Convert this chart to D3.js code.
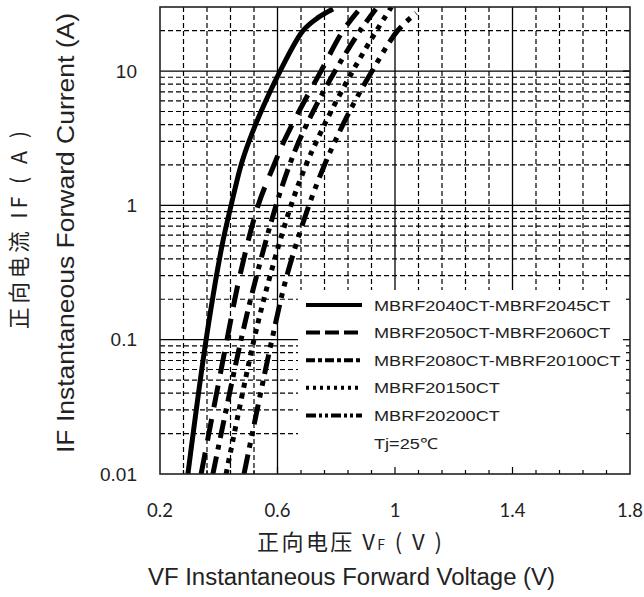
<!DOCTYPE html>
<html>
<head>
<meta charset="utf-8">
<script src="https://cdn.jsdelivr.net/npm/d3@7"></script>
<style>
  body { margin: 0; background: #fff; }
  svg { display: block; }
</style>
</head>
<body>
<svg id="chart" width="644" height="597"></svg>
<script>
// series names (legend order)
var seriesNames = ["MBRF2040CT-MBRF2045CT", "MBRF2050CT-MBRF2060CT", "MBRF2080CT-MBRF20100CT", "MBRF20150CT", "MBRF20200CT"];

// forward current (A) and voltage (V)
var s1Current = [0.01, 0.1, 0.5, 1, 2, 3, 5, 10, 20, 25, 29];
var s1Voltage = [0.295, 0.357, 0.411, 0.442, 0.476, 0.503, 0.544, 0.609, 0.687, 0.738, 0.789];
var s2Current = [0.01, 0.1, 0.3, 1, 2, 3, 5, 10, 20, 28];
var s2Voltage = [0.340, 0.428, 0.472, 0.534, 0.588, 0.622, 0.673, 0.748, 0.823, 0.874];
var s3Current = [0.01, 0.1, 0.3, 1, 2, 3, 5, 10, 20, 29];
var s3Voltage = [0.380, 0.476, 0.529, 0.595, 0.641, 0.673, 0.721, 0.796, 0.881, 0.935];
var s4Current = [0.01, 0.1, 0.3, 1, 2, 3, 5, 10, 20, 30];
var s4Voltage = [0.425, 0.520, 0.575, 0.646, 0.697, 0.733, 0.782, 0.856, 0.937, 0.988];
var s5Current = [0.01, 0.1, 0.3, 1, 2, 3, 5, 10, 20, 27];
var s5Voltage = [0.486, 0.581, 0.632, 0.707, 0.760, 0.796, 0.845, 0.922, 1.009, 1.072];

var xTickValues = [0.2, 0.6, 1, 1.4, 1.8];
var xTickLabels = ["0.2", "0.6", "1", "1.4", "1.8"];
var yTickValues = [0.01, 0.1, 1, 10];
var yTickLabels = ["0.01", "0.1", "1", "10"];

(function() {

    var svg = d3.select("#chart");
    var pl = 160, pr = 630, pt = 7, pb = 474;

    var x = d3.scaleLinear().domain([0.2, 1.8]).range([pl, pr]);
    var y = d3.scaleLog().domain([0.01, 30]).range([pb, pt]);

    // minor grid values
    var xMinor = d3.range(0, 21).filter(function(i) { return i % 5 != 0; }).map(function(i) { return 0.2 + i * 0.08; });
    var xMajor = [0.6, 1, 1.4];
    var yMinor = [];
    [0.01, 0.1, 1, 10].forEach(function(dec) {
        for (var k = 2; k <= 9; k++) { if (dec * k < 30) yMinor.push(dec * k); }
    });
    var yMajor = [0.1, 1, 10];

    var grid = svg.append("g");
    grid.selectAll("line.vminor").data(xMinor).enter().append("line")
        .attr("x1", function(d) { return x(d); }).attr("x2", function(d) { return x(d); })
        .attr("y1", pt).attr("y2", pb)
        .attr("stroke", "#000").attr("stroke-width", 1.2).attr("stroke-dasharray", "5,3");
    grid.selectAll("line.hminor").data(yMinor).enter().append("line")
        .attr("y1", function(d) { return y(d); }).attr("y2", function(d) { return y(d); })
        .attr("x1", pl).attr("x2", pr)
        .attr("stroke", "#000").attr("stroke-width", 1.2).attr("stroke-dasharray", "5,3");
    grid.selectAll("line.vmajor").data(xMajor).enter().append("line")
        .attr("x1", function(d) { return x(d); }).attr("x2", function(d) { return x(d); })
        .attr("y1", pt).attr("y2", pb)
        .attr("stroke", "#000").attr("stroke-width", 1.3);
    grid.selectAll("line.hmajor").data(yMajor).enter().append("line")
        .attr("y1", function(d) { return y(d); }).attr("y2", function(d) { return y(d); })
        .attr("x1", pl).attr("x2", pr)
        .attr("stroke", "#000").attr("stroke-width", 1.3);

    // curves
    svg.append("clipPath").attr("id", "plot").append("rect")
        .attr("x", pl).attr("y", pt).attr("width", pr - pl).attr("height", pb - pt);

    var series = [
        { v: s1Voltage, i: s1Current, dash: null },
        { v: s2Voltage, i: s2Current, dash: "22,12" },
        { v: s3Voltage, i: s3Current, dash: "18,7,5,7" },
        { v: s4Voltage, i: s4Current, dash: "5,6" },
        { v: s5Voltage, i: s5Current, dash: "20,7,5,7,5,7" }
    ];
    var legendDash = [null, "14,5", "9,3,4,3", "3,4", "10,3,3,3,3,3"];

    var line = d3.line()
        .x(function(d) { return x(d[0]); })
        .y(function(d) { return y(d[1]); })
        .curve(d3.curveCatmullRom.alpha(0.5));

    svg.append("g").attr("clip-path", "url(#plot)")
        .selectAll("path").data(series).enter().append("path")
        .attr("d", function(s) { return line(d3.zip(s.v, s.i)); })
        .attr("fill", "none").attr("stroke", "#000").attr("stroke-width", 5)
        .attr("stroke-dasharray", function(s) { return s.dash; });

    // legend box covers the grid
    var lgX = 298, lgY = 290;
    svg.append("rect").attr("x", lgX).attr("y", lgY).attr("width", pr - lgX).attr("height", pb - lgY).attr("fill", "#fff");

    // inner ticks on bottom and right edges
    var ticks = svg.append("g").attr("stroke", "#000").attr("stroke-width", 1.2);
    ticks.selectAll("line.bt").data(xMinor.concat(xMajor)).enter().append("line")
        .attr("x1", function(d) { return x(d); }).attr("x2", function(d) { return x(d); })
        .attr("y1", pb).attr("y2", function(d) { return xMajor.indexOf(d) >= 0 ? pb - 7 : pb - 4; });
    ticks.selectAll("line.rt").data(yMinor.concat(yMajor)).enter().append("line")
        .attr("y1", function(d) { return y(d); }).attr("y2", function(d) { return y(d); })
        .attr("x1", pr).attr("x2", function(d) { return yMajor.indexOf(d) >= 0 ? pr - 7 : pr - 4; });

    // border
    svg.append("rect").attr("x", pl).attr("y", pt).attr("width", pr - pl).attr("height", pb - pt)
        .attr("fill", "none").attr("stroke", "#222").attr("stroke-width", 1.6);

    // legend entries
    var rowY = function(k) { return 305 + k * 27.6; };
    var lg = svg.append("g");
    lg.selectAll("line").data(seriesNames).enter().append("line")
        .attr("x1", 306).attr("x2", 362)
        .attr("y1", function(d, k) { return rowY(k); }).attr("y2", function(d, k) { return rowY(k); })
        .attr("stroke", "#000").attr("stroke-width", 4)
        .attr("stroke-dasharray", function(d, k) { return legendDash[k]; });
    lg.selectAll("text").data(seriesNames.concat(["Tj=25℃"])).enter().append("text")
        .attr("transform", function(d, k) { return "translate(374," + (rowY(k) + 5.5) + ") scale(1.25,1.05)"; })
        .attr("font-family", "Liberation Sans, Arial, sans-serif").attr("font-size", 14.5)
        .attr("fill", "#222")
        .text(function(d) { return d; });

    // tick labels
    svg.selectAll("text.xt").data(xTickValues).enter().append("text")
        .attr("x", function(d) { return x(d); }).attr("y", 517)
        .attr("text-anchor", "middle").attr("font-family", "Lato, sans-serif").attr("font-size", 18.5)
        .attr("fill", "#222")
        .text(function(d, k) { return xTickLabels[k]; });
    svg.selectAll("text.yt").data(yTickValues).enter().append("text")
        .attr("x", 137).attr("y", function(d) { return y(d); }).attr("dy", "0.35em")
        .attr("text-anchor", "end").attr("font-family", "Liberation Sans, Arial, sans-serif").attr("font-size", 19)
        .attr("fill", "#222")
        .text(function(d, k) { return yTickLabels[k]; });

    // axis titles
    var xt = svg.append("text").attr("x", 257).attr("y", 550)
        .attr("textLength", 185).attr("lengthAdjust", "spacing")
        .attr("font-family", "Noto Sans CJK SC, sans-serif").attr("font-size", 22).attr("fill", "#222");
    xt.append("tspan").text("正向电压 V");
    xt.append("tspan").attr("font-size", 14).text("F");
    xt.append("tspan").text(" ( V )");

    svg.append("text").attr("x", 148).attr("y", 585)
        .attr("textLength", 407).attr("lengthAdjust", "spacingAndGlyphs")
        .attr("font-family", "Liberation Sans, Arial, sans-serif").attr("font-size", 23.5).attr("fill", "#222")
        .text("VF  Instantaneous Forward Voltage (V)");

    svg.append("text").attr("transform", "translate(27,230) rotate(-90)")
        .attr("text-anchor", "middle")
        .attr("textLength", 198).attr("lengthAdjust", "spacing")
        .attr("font-family", "Noto Sans CJK SC, sans-serif").attr("font-size", 21.5).attr("fill", "#222")
        .text("正向电流  IF ( A )");

    svg.append("text").attr("transform", "translate(74,233) rotate(-90)")
        .attr("text-anchor", "middle")
        .attr("textLength", 440).attr("lengthAdjust", "spacingAndGlyphs")
        .attr("font-family", "Liberation Sans, Arial, sans-serif").attr("font-size", 23.5).attr("fill", "#222")
        .text("IF Instantaneous Forward Current (A)");

})();
</script>
</body>
</html>
